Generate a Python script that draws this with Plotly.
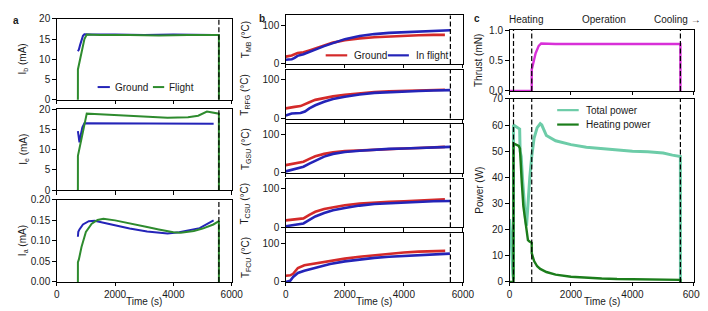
import plotly.graph_objects as go

W, H = 708, 311
FONT = "Liberation Sans, Arial, sans-serif"
TXT = "#1a1a1a"

# ---------------- data: panel a ----------------
t_ib_ground = [726, 760, 800, 850, 900, 950, 1200, 2000, 3000, 4000, 5000, 5380]
ib_ground = [12.0, 12.4, 13.5, 14.8, 15.8, 16.2, 16.1, 16.1, 16.0, 16.1, 16.0, 16.0]
t_ib_flight = [690, 726, 727, 780, 850, 950, 1030, 1500, 2500, 3500, 4500, 5560, 5561]
ib_flight = [0, 0, 7.5, 9.5, 12.0, 15.0, 16.1, 16.0, 16.0, 15.9, 16.0, 16.0, 0]

t_ie_ground = [726, 750, 780, 820, 880, 950, 1500, 3000, 4500, 5380]
ie_ground = [14.6, 12.5, 11.8, 13.5, 15.5, 16.5, 16.5, 16.4, 16.5, 16.4]
t_ie_flight = [690, 726, 727, 800, 900, 1030, 1300, 2000, 3000, 3800, 4500, 4850, 5150, 5450, 5560, 5561]
ie_flight = [0, 0, 8.5, 11.0, 14.5, 18.9, 18.8, 18.5, 18.1, 17.9, 18.0, 18.4, 19.4, 19.0, 18.9, 0]

t_ia_ground = [726, 740, 780, 900, 1100, 1300, 1800, 2500, 3100, 3800, 4200, 4900, 5380]
ia_ground = [0.110, 0.122, 0.128, 0.140, 0.148, 0.149, 0.141, 0.130, 0.123, 0.118, 0.121, 0.131, 0.150]
t_ia_flight = [726, 727, 760, 850, 1000, 1200, 1400, 1600, 2000, 2500, 3100, 3500, 4000, 4250, 4700, 5000, 5370, 5560, 5561]
ia_flight = [0, 0.048, 0.055, 0.085, 0.122, 0.142, 0.151, 0.154, 0.150, 0.142, 0.134, 0.128, 0.121, 0.120, 0.124, 0.130, 0.140, 0.148, 0]

# ---------------- data: panel b ----------------
t_mb_ground = [0, 200, 400, 600, 800, 1000, 1300, 1600, 2000, 2500, 3000, 3500, 4000, 4500, 5000, 5390]
mb_ground = [19, 22, 28, 30, 35, 40, 48, 55, 61, 66, 69, 71, 73, 74, 75, 75]
t_mb_flight = [0, 200, 300, 400, 600, 800, 1000, 1300, 1600, 2000, 2500, 3000, 3500, 4000, 4500, 5000, 5570]
mb_flight = [11, 12, 16, 21, 25, 30, 37, 46, 54, 64, 72, 77, 80, 82, 84, 85, 87]

t_rfg_ground = [0, 100, 300, 500, 650, 800, 1000, 1300, 1600, 2000, 2500, 3000, 3500, 4000, 4500, 5000, 5390]
rfg_ground = [26, 28, 30, 32, 36, 42, 48, 53, 57, 61, 65, 68, 70, 71, 72, 73, 74]
t_rfg_flight = [0, 100, 200, 500, 650, 800, 1000, 1300, 1600, 2000, 2500, 3000, 3500, 4000, 4500, 5000, 5570]
rfg_flight = [8, 11, 13, 14, 18, 26, 34, 43, 50, 56, 62, 66, 68, 70, 71, 72, 73]

t_gsu_ground = [0, 200, 400, 600, 800, 1000, 1300, 1600, 2000, 2500, 3000, 3500, 4000, 4500, 5000, 5390]
gsu_ground = [20, 23, 26, 29, 36, 43, 49, 53, 56, 58, 60, 62, 63, 64, 66, 67]
t_gsu_flight = [0, 200, 400, 600, 800, 1000, 1300, 1600, 2000, 2500, 3000, 3500, 4000, 4500, 5000, 5570]
gsu_flight = [4, 8, 12, 16, 24, 32, 42, 49, 54, 57, 60, 62, 63, 64, 66, 67]

t_csu_ground = [0, 300, 600, 800, 1000, 1300, 1600, 2000, 2500, 3000, 3500, 4000, 4500, 5000, 5390]
csu_ground = [18, 20, 23, 32, 40, 47, 52, 57, 61, 64, 66, 67, 69, 70, 72]
t_csu_flight = [0, 300, 600, 800, 1000, 1300, 1600, 2000, 2500, 3000, 3500, 4000, 4500, 5000, 5570]
csu_flight = [3, 6, 10, 19, 28, 37, 44, 50, 56, 60, 62, 64, 66, 67, 68]

t_fcu_ground = [0, 150, 250, 410, 630, 1000, 1500, 2000, 2500, 3000, 3500, 4000, 4500, 5000, 5400]
fcu_ground = [16, 17, 21, 36, 43, 48, 55, 60, 65, 69, 73, 76, 78, 79, 80]
t_fcu_flight = [0, 150, 250, 410, 630, 1000, 1500, 2000, 2500, 3000, 3500, 4000, 4500, 5000, 5560]
fcu_flight = [0, 3, 13, 23, 29, 36, 46, 53, 58, 62, 65, 67, 69, 71, 73]

# ---------------- data: panel c ----------------
t_thrust = [0, 722, 723, 780, 850, 950, 1030, 1500, 2500, 3500, 4500, 5560, 5561]
thrust = [0, 0, 0.35, 0.50, 0.62, 0.74, 0.78, 0.77, 0.77, 0.76, 0.77, 0.77, 0]

t_total = [0, 60, 110, 129, 130, 200, 300, 330, 345, 380, 420, 470, 520, 554, 600, 660, 723, 800,
           900, 1000, 1050, 1200, 1500, 2000, 2500, 3000, 3500, 4000, 4500, 5000, 5300, 5560, 5561]
total_power = [24, 15, 3, 1, 60, 59.5, 59, 58.5, 50, 48, 40, 30, 24, 21.5, 30, 40, 48, 55,
               59, 60.5, 60, 56, 54, 52.5, 51.5, 51, 50.5, 50, 49.8, 49.3, 48.5, 48, 0]

t_heat = [0, 129, 130, 200, 300, 340, 360, 400, 450, 500, 554, 600, 650, 722, 723, 800, 900, 1000,
          1200, 1500, 2000, 2500, 3000, 3500, 4000, 5000, 5560, 5561]
heating_power = [0, 0, 53, 52.5, 52, 51, 45, 38, 29, 25, 20, 16, 15.5, 15, 11, 8, 6, 5,
                 3.8, 2.8, 2.0, 1.6, 1.3, 1.1, 1.0, 0.9, 0.8, 0]

x_ticks = [0, 2000, 4000, 6000]
phase_times = [130, 723, 5560]
end_time_a = 5560
end_time_b = 5575

# ---------------- colours ----------------
C_BLUE = "#2424b8"
C_GREEN = "#2e8b2e"
C_RED = "#d42a2a"
C_MAG = "#d830d8"
C_TEAL = "#6dcca8"
C_DKGREEN = "#1b7d1b"


def X(p):
    return p / W


def Y(p):
    return 1 - p / H


def sfx(k):
    return "" if k == 1 else str(k)


AX_A = (46.7, 225.5)
AX_B = (280.7, 461.7)
AX_C = (509.3, 697.7)

# id, x-domain px, (top, bottom) px, yrange, yticks, yformat, show x labels
AXES = [
    (1, AX_A, (5.0, 89.3), [0, 20], [0, 5, 10, 15, 20], "d", False),
    (2, AX_A, (99.0, 183.3), [0, 20], [0, 5, 10, 15, 20], "d", False),
    (3, AX_A, (193.3, 278.7), [0, 0.2], [0, 0.05, 0.1, 0.15, 0.2], ".2f", True),
    (4, AX_B, (1.5, 52.0), [0, 125], [0, 100], "d", False),
    (5, AX_B, (58.2, 108.7), [0, 125], [0, 100], "d", False),
    (6, AX_B, (114.8, 165.3), [0, 125], [0, 100], "d", False),
    (7, AX_B, (171.4, 221.9), [0, 125], [0, 100], "d", False),
    (8, AX_B, (228.2, 278.7), [0, 125], [0, 100], "d", True),
    (9, AX_C, (16.7, 80.0), [0, 1], [0, 0.5, 1.0], ".1f", False),
    (10, AX_C, (88.3, 278.7), [0, 70], [0, 10, 20, 30, 40, 50, 60, 70], "d", True),
]

fig = go.Figure()


def add_line(k, xs, ys, color, width=2.0):
    fig.add_trace(go.Scatter(
        x=xs, y=ys, mode="lines", line=dict(color=color, width=width),
        xaxis="x" + sfx(k), yaxis="y" + sfx(k), showlegend=False, hoverinfo="skip"))


# panel a
add_line(1, t_ib_ground, ib_ground, C_BLUE)
add_line(1, t_ib_flight, ib_flight, C_GREEN)
add_line(2, t_ie_ground, ie_ground, C_BLUE)
add_line(2, t_ie_flight, ie_flight, C_GREEN)
add_line(3, t_ia_ground, ia_ground, C_BLUE)
add_line(3, t_ia_flight, ia_flight, C_GREEN)
# panel b
b_series = [
    (4, t_mb_ground, mb_ground, t_mb_flight, mb_flight),
    (5, t_rfg_ground, rfg_ground, t_rfg_flight, rfg_flight),
    (6, t_gsu_ground, gsu_ground, t_gsu_flight, gsu_flight),
    (7, t_csu_ground, csu_ground, t_csu_flight, csu_flight),
    (8, t_fcu_ground, fcu_ground, t_fcu_flight, fcu_flight),
]
for k, tg, vg, tf, vf in b_series:
    add_line(k, tg, vg, C_RED, 2.6)
    add_line(k, tf, vf, C_BLUE, 2.6)
# panel c
add_line(9, t_thrust, thrust, C_MAG, 2.4)
add_line(10, t_total, total_power, C_TEAL, 3.0)
add_line(10, t_heat, heating_power, C_DKGREEN, 2.4)

layout = dict(
    width=W, height=H, margin=dict(l=0, r=0, t=0, b=0),
    paper_bgcolor="white", plot_bgcolor="white",
    font=dict(family=FONT, size=10, color=TXT),
    showlegend=False,
)
for k, xd, yd, yr, yt, yf, xlab in AXES:
    layout["xaxis" + sfx(k)] = dict(
        domain=[X(xd[0]), X(xd[1])], anchor="y" + sfx(k), range=[0, 6000],
        tickvals=x_ticks, showticklabels=xlab, ticks="outside", ticklen=3.5,
        tickwidth=1, tickcolor="black", showline=True, linecolor="black",
        linewidth=1, mirror=True, showgrid=False, zeroline=False,
        tickfont=dict(size=10, family=FONT, color=TXT))
    layout["yaxis" + sfx(k)] = dict(
        domain=[Y(yd[1]), Y(yd[0])], anchor="x" + sfx(k), range=yr,
        tickvals=yt, tickformat=yf, ticks="outside", ticklen=3.5,
        tickwidth=1, tickcolor="black", showline=True, linecolor="black",
        linewidth=1, mirror=True, showgrid=False, zeroline=False,
        tickfont=dict(size=10, family=FONT, color=TXT))
fig.update_layout(**layout)

# dashed phase lines
DASH = dict(color="black", width=1.2, dash="5px,2.5px")


def vline(k, t):
    fig.add_shape(type="line", xref="x" + sfx(k), yref="y" + sfx(k) + " domain",
                  x0=t, x1=t, y0=0, y1=1, line=DASH)


for k in (1, 2, 3):
    vline(k, end_time_a)
for k in (4, 5, 6, 7, 8):
    vline(k, end_time_b)
for k in (9, 10):
    for tp in phase_times:
        vline(k, tp)


def text(x, y, s, size=10, xanchor="center", angle=0, bold=False):
    fig.add_annotation(x=X(x), y=Y(y), xref="paper", yref="paper",
                       text=f"<b>{s}</b>" if bold else s, showarrow=False,
                       xanchor=xanchor, yanchor="middle", textangle=angle,
                       font=dict(size=size, family=FONT, color=TXT),
                       borderpad=0)


def legend_line(x0, x1, y, color, width=2.0):
    fig.add_shape(type="line", xref="paper", yref="paper",
                  x0=X(x0), x1=X(x1), y0=Y(y), y1=Y(y),
                  line=dict(color=color, width=width))


# panel letters
text(5.5, 6.5, "a", 10, bold=True)
text(256.5, 4.5, "b", 10, bold=True)
text(476, 4.5, "c", 10, bold=True)

# y-axis titles
text(12.5, 47, "I<sub>b</sub> (mA)", angle=-90)
text(12.5, 141, "I<sub>e</sub> (mA)", angle=-90)
text(12.5, 236, "I<sub>a</sub> (mA)", angle=-90)
b_titles = ["T<sub>MB</sub> (°C)", "T<sub>RFG</sub> (°C)", "T<sub>GSU</sub> (°C)",
            "T<sub>CSU</sub> (°C)", "T<sub>FCU</sub> (°C)"]
for (k, xd, yd, *_), ttl in zip(AXES[3:8], b_titles):
    text(239.5, (yd[0] + yd[1]) / 2, ttl, angle=-90)
text(477, 48, "Thrust (mN)", angle=-90)
text(479, 183, "Power (W)", angle=-90)

# x-axis titles
for xd in (AX_A, AX_B, AX_C):
    text((xd[0] + xd[1]) / 2, 299.5, "Time (s)")

# phase labels
text(526, 6, "Heating")
text(606, 6, "Operation")
text(681, 6, "Cooling →")

# legends (drawn manually)
legend_line(88.5, 101, 76, C_BLUE)
text(105.5, 76, "Ground", xanchor="left")
legend_line(145, 156.5, 76, C_GREEN)
text(160, 76, "Flight", xanchor="left")

legend_line(321.5, 343.5, 43, C_RED, 2.2)
text(349.5, 43, "Ground", xanchor="left")
legend_line(385, 406.5, 43, C_BLUE, 2.2)
text(412.5, 43, "In flight", xanchor="left")

legend_line(558, 580, 100, C_TEAL, 2.2)
text(586, 100, "Total power", xanchor="left")
legend_line(558, 580, 115, C_DKGREEN, 2.2)
text(586, 115, "Heating power", xanchor="left")

fig.write_html("out.html")
